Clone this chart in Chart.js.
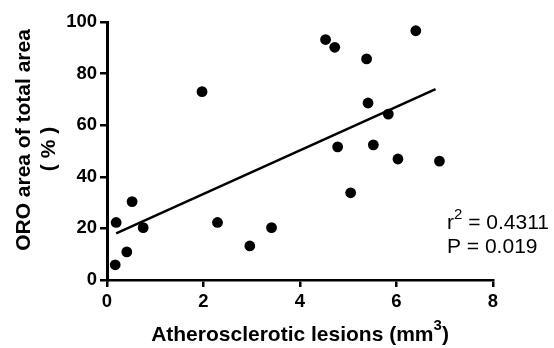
<!DOCTYPE html>
<html>
<head>
<meta charset="utf-8">
<script src="https://cdn.jsdelivr.net/npm/chart.js@4"></script>
<style>
  html, body { margin: 0; padding: 0; background: #fff; }
  #wrap { width: 554px; height: 348px; position: relative; }
</style>
</head>
<body>
<div id="wrap"><canvas id="chart"></canvas></div>
<script>
// --- Data ---
const lesionVolume = [0.17, 0.19, 0.41, 0.52, 0.75, 1.97, 2.29, 2.96, 3.41, 4.53,
                      4.72, 4.78, 5.05, 5.38, 5.41, 5.52, 5.83, 6.03, 6.40, 6.89];
const oroArea =      [5.9, 22.3, 10.9, 30.4, 20.3, 73.0, 22.3, 13.2, 20.3, 93.2,
                      90.2, 51.6, 33.8, 85.7, 68.6, 52.4, 64.3, 46.9, 96.6, 46.1];
// regression line end points
const fitX = [0.19, 6.81];
const fitY = [18.1, 74.0];
const xTicks = [0, 2, 4, 6, 8];
const yTicks = [0, 20, 40, 60, 80, 100];
const yTitle = ['ORO area of total area', '( % )'];
const xTitle = ['Atherosclerotic lesions (mm', '3', ')'];
const stats = [['r', '2', ' = 0.4311'], ['P = 0.019']];

const FONT = '"Liberation Sans", Arial, Helvetica, sans-serif';

// axis titles and r2 / P text
const textPlugin = {
    id: 'textPlugin',
    afterDraw(chart) {
        const ctx = chart.ctx;
        const a = chart.chartArea;
        ctx.save();
        ctx.fillStyle = '#000';
        ctx.textBaseline = 'middle';
        ctx.textAlign = 'center';
        ctx.font = 'bold 21px ' + FONT;

        // y title, two rotated lines
        ctx.save();
        ctx.translate(24, a.top + 118);
        ctx.rotate(-Math.PI / 2);
        ctx.fillText(yTitle[0], 0, 0);
        ctx.restore();
        ctx.save();
        ctx.translate(49, a.top + 127);
        ctx.rotate(-Math.PI / 2);
        ctx.fillText(yTitle[1], 0, 0);
        ctx.restore();

        // x title with superscript
        ctx.textAlign = 'left';
        ctx.textBaseline = 'alphabetic';
        const big = 'bold 21px ' + FONT, small = 'bold 15px ' + FONT;
        ctx.font = big;
        const w0 = ctx.measureText(xTitle[0]).width;
        const w2 = ctx.measureText(xTitle[2]).width;
        ctx.font = small;
        const w1 = ctx.measureText(xTitle[1]).width;
        let x = (a.left + a.right) / 2 - (w0 + w1 + w2) / 2;
        const base = a.bottom + 61;
        ctx.font = big;
        ctx.fillText(xTitle[0], x, base);
        x += w0;
        ctx.font = small;
        ctx.fillText(xTitle[1], x, base - 11);
        x += w1;
        ctx.font = big;
        ctx.fillText(xTitle[2], x, base);

        // stats
        const nbig = '21px ' + FONT, nsmall = '15px ' + FONT;
        let sx = 447;
        let sy = 229;
        ctx.font = nbig;
        ctx.fillText(stats[0][0], sx, sy);
        sx += ctx.measureText(stats[0][0]).width;
        ctx.font = nsmall;
        ctx.fillText(stats[0][1], sx, sy - 10);
        sx += ctx.measureText(stats[0][1]).width;
        ctx.font = nbig;
        ctx.fillText(stats[0][2], sx, sy);
        ctx.fillText(stats[1][0], 447, sy + 23.5);
        ctx.restore();
    }
};

const ctx = document.getElementById('chart').getContext('2d');
new Chart(ctx, {
    type: 'scatter',
    data: {
        datasets: [{
            data: lesionVolume.map((v, i) => ({ x: v, y: oroArea[i] })),
            backgroundColor: '#000',
            borderColor: '#000',
            pointRadius: 5.4,
            pointBorderWidth: 0
        }, {
            type: 'line',
            data: fitX.map((v, i) => ({ x: v, y: fitY[i] })),
            borderColor: '#000',
            borderWidth: 2.5,
            pointRadius: 0,
            fill: false
        }]
    },
    options: {
        responsive: true,
        maintainAspectRatio: false,
        animation: false,
        layout: { padding: { left: 0, right: 61, top: 22, bottom: 0 } },
        plugins: {
            legend: { display: false },
            tooltip: { enabled: false }
        },
        scales: {
            x: {
                type: 'linear',
                min: 0,
                max: 8,
                afterFit: (s) => { s.height = 68; },
                afterBuildTicks: (s) => { s.ticks = xTicks.map(v => ({ value: v })); },
                ticks: { color: '#000', padding: 4, font: { family: FONT, size: 18.5, weight: 'bold' } },
                grid: { drawOnChartArea: false, drawTicks: true, tickLength: 7, color: '#000', lineWidth: 2.5 },
                border: { display: true, color: '#000', width: 2.5 }
            },
            y: {
                type: 'linear',
                min: 0,
                max: 100,
                afterFit: (s) => { s.width = 107; },
                afterBuildTicks: (s) => { s.ticks = yTicks.map(v => ({ value: v })); },
                ticks: { color: '#000', padding: 3, font: { family: FONT, size: 18.5, weight: 'bold' } },
                grid: { drawOnChartArea: false, drawTicks: true, tickLength: 7, color: '#000', lineWidth: 2.5 },
                border: { display: true, color: '#000', width: 3 }
            }
        }
    },
    plugins: [textPlugin]
});
</script>
</body>
</html>
